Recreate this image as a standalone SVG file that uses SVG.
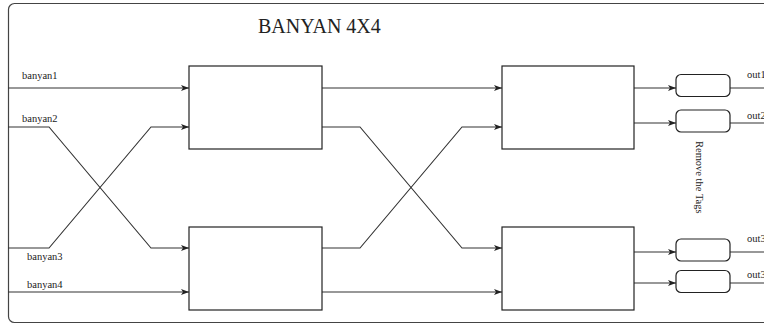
<svg xmlns="http://www.w3.org/2000/svg" width="764" height="325" viewBox="0 0 764 325">
<style>
.t{font-family:"Liberation Serif","Times New Roman",serif;fill:#222;}
.lbl{font-size:10.5px;}
.box{fill:#fff;stroke:#222;stroke-width:1.2;}
.w{fill:none;stroke:#333;stroke-width:1.1;}
.wa{fill:none;stroke:#333;stroke-width:1.1;marker-end:url(#ah);}
</style>
<defs>
<marker id="ah" viewBox="0 0 8 6" refX="8" refY="3" markerWidth="8" markerHeight="6" markerUnits="userSpaceOnUse" orient="auto">
<path d="M0,0 L8,3 L0,6 L2,3 Z" fill="#222"/>
</marker>
</defs>
<rect x="8.5" y="3.5" width="790" height="319" rx="6" ry="6" fill="none" stroke="#444" stroke-width="1.2"/>
<text class="t" x="258" y="33" font-size="20">BANYAN 4X4</text>
<g id="connectors">
<path class="wa" d="M8,88 H189"/>
<path class="wa" d="M8,127 H49 L151,248 H189"/>
<path class="wa" d="M8,248 H49 L151,127 H189"/>
<path class="wa" d="M8,292 H189"/>
<path class="wa" d="M322,88 H502"/>
<path class="wa" d="M322,127 H360 L462,248 H502"/>
<path class="wa" d="M322,248 H360 L462,127 H502"/>
<path class="wa" d="M322,292 H502"/>
<path class="wa" d="M634,88 H676"/>
<path class="wa" d="M634,123 H676"/>
<path class="wa" d="M634,252 H676"/>
<path class="wa" d="M634,283 H676"/>
<path class="w" d="M730,88 H764"/>
<path class="w" d="M730,123 H764"/>
<path class="w" d="M730,252 H764"/>
<path class="w" d="M730,283 H764"/>
</g>
<g id="labels">
<text class="t lbl" x="22" y="79">banyan1</text>
<text class="t lbl" x="22" y="122">banyan2</text>
<text class="t lbl" x="27" y="260">banyan3</text>
<text class="t lbl" x="27" y="288">banyan4</text>
<text class="t lbl" x="747" y="78">out1</text>
<text class="t lbl" x="747" y="119">out2</text>
<text class="t lbl" x="747" y="242">out3</text>
<text class="t lbl" x="747" y="278">out3</text>
<text class="t lbl" transform="translate(696,141) rotate(90)">Remove the Tags</text>
</g>
<g id="sw1"><rect class="box" x="189" y="66" width="133" height="83"/></g>
<g id="sw2"><rect class="box" x="189" y="227" width="133" height="83"/></g>
<g id="sw3"><rect class="box" x="502" y="66" width="132" height="83"/></g>
<g id="sw4"><rect class="box" x="502" y="227" width="132" height="83"/></g>
<g id="tag1"><rect class="box" x="676" y="74.5" width="54" height="22" rx="5"/></g>
<g id="tag2"><rect class="box" x="676" y="110" width="54" height="22" rx="5"/></g>
<g id="tag3"><rect class="box" x="676" y="239" width="54" height="22" rx="5"/></g>
<g id="tag4"><rect class="box" x="676" y="270.5" width="54" height="22" rx="5"/></g>
</svg>
